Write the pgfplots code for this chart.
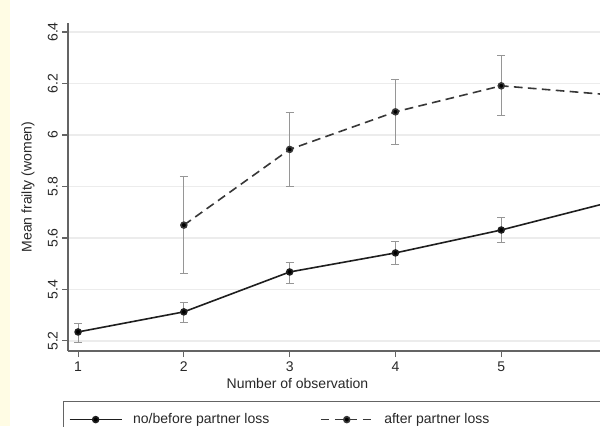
\documentclass[border=0pt]{standalone}
\usepackage{fontspec}
\setmainfont{Liberation Sans}
\usepackage{pgfplots}
\pgfplotsset{compat=1.18}
\usepackage{pgfplotstable}

\definecolor{cream}{RGB}{255,252,228}
\definecolor{axisgray}{RGB}{100,100,100}
\definecolor{gridgray}{RGB}{236,236,236}
\definecolor{textgray}{RGB}{40,40,40}
\definecolor{errgray}{RGB}{150,150,150}
\definecolor{linedark}{RGB}{30,30,30}
\definecolor{dashdark}{RGB}{55,55,55}

\pgfplotstableread{
x y ep em
1 5.235 0.035 0.039
2 5.313 0.035 0.039
3 5.468 0.039 0.043
4 5.542 0.046 0.043
5 5.631 0.047 0.047
6 5.736 0.060 0.060
}\before

\pgfplotstableread{
x y ep em
2 5.650 0.191 0.186
3 5.944 0.143 0.142
4 6.090 0.127 0.125
5 6.191 0.120 0.113
6 6.157 0.120 0.120
}\after

\begin{document}
\begin{tikzpicture}
\path[use as bounding box] (0,0) rectangle (450pt,319.5pt);
\clip (0,0) rectangle (450pt,319.5pt);
\fill[white] (0,0) rectangle (450pt,319.5pt);
\fill[cream] (0,0) rectangle (7.5pt,319.5pt);
\begin{axis}[
  at={(51pt,56.25pt)}, anchor=south west,
  scale only axis, width=411.75pt, height=246pt,
  xmin=0.905, xmax=6.094, ymin=5.161, ymax=6.435,
  axis x line*=bottom, axis y line*=left,
  axis line style={draw=axisgray, line width=0.9pt, -},
  xtick={1,2,3,4,5}, xticklabels={1,2,3,4,5},
  ytick={5.2,5.4,5.6,5.8,6,6.2,6.4},
  yticklabels={5.2,5.4,5.6,5.8,6,6.2,6.4},
  tick align=outside, major tick length=4.5pt,
  tick style={draw=axisgray, line width=0.8pt},
  ymajorgrids, grid style={draw=gridgray, line width=1pt},
  ticklabel style={font=\fontsize{10.5}{12}\selectfont, text=textgray},
  yticklabel style={rotate=90, anchor=south, inner ysep=3pt},
  xlabel={Number of observation}, ylabel={Mean frailty (women)},
  label style={font=\fontsize{10.5}{12}\selectfont, text=textgray},
  xlabel style={at={(axis description cs:0.418,-0.0976)}, anchor=center},
  ylabel style={at={(axis description cs:-0.0729,0.5)}, anchor=center},
  legend columns=2,
  legend cell align=left,
  legend image code/.code={\draw[mark repeat=2,mark phase=2,#1] plot coordinates {(0pt,0pt) (19.5pt,0pt) (39pt,0pt)};},
  legend style={at={(axis description cs:-0.0091,-0.1524)}, anchor=north west,
    draw=axisgray, line width=0.8pt,
    font=\fontsize{10.5}{12}\selectfont, text=textgray,
    inner xsep=4pt, inner ysep=7pt,
    /tikz/every even column/.append style={column sep=36pt},
    /tikz/every odd column/.append style={column sep=6pt}},
]
\addplot[linedark, line width=1.2pt, mark=*, mark size=2.2pt, mark options={solid, fill=black},
  error bars/.cd, y dir=both, y explicit,
  error bar style={errgray, line width=0.6pt},
  error mark options={errgray, line width=0.6pt, mark size=3pt, rotate=90}]
  table[x=x, y=y, y error plus=ep, y error minus=em] {\before};
\addlegendentry{no/before partner loss}
\addplot[dashdark, line width=1.2pt, dash pattern=on 6.5pt off 4pt, mark=*, mark size=2.2pt, mark options={solid, fill=black},
  error bars/.cd, y dir=both, y explicit,
  error bar style={errgray, line width=0.6pt, solid},
  error mark options={errgray, line width=0.6pt, mark size=3pt, rotate=90, solid}]
  table[x=x, y=y, y error plus=ep, y error minus=em] {\after};
\addlegendentry{\makebox[200pt][l]{after partner loss}}
\end{axis}
\end{tikzpicture}
\end{document}
